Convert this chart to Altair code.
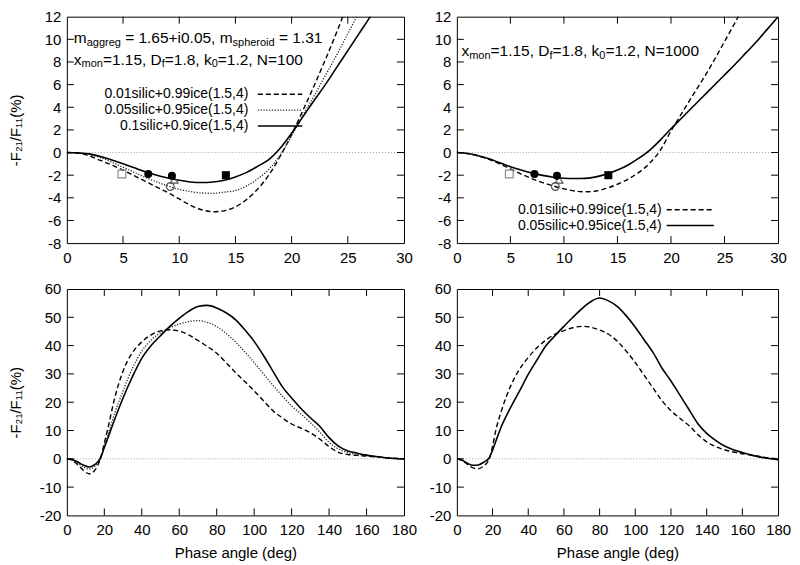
import altair as alt
import pandas as pd

FONT = "Liberation Sans, Arial, Helvetica, sans-serif"

# ---------------- data ----------------
# Top-left: N=100, phase angle 0..30
tl_dash_x = list(range(0, 27))
tl_dash_y = [0, -0.05, -0.3, -0.7, -1.1, -1.55, -2.05, -2.55, -3.05, -3.55, -4.1, -4.65, -5.05, -5.23,
             -5.15, -4.8, -4.15, -3.2, -1.95, -0.3, 1.6, 3.7, 5.9, 8.2, 10.6, 13.2, 15.9]
tl_dot_x = list(range(0, 28))
tl_dot_y = [0, -0.03, -0.15, -0.45, -0.85, -1.3, -1.75, -2.2, -2.6, -2.95, -3.25, -3.45, -3.57, -3.6,
            -3.5, -3.35, -2.95, -2.3, -1.45, -0.2, 1.5, 3.3, 5.0, 6.8, 8.6, 10.5, 12.4, 14.4]
tl_sol_x = list(range(0, 29))
tl_sol_y = [0, -0.03, -0.12, -0.35, -0.65, -1.0, -1.35, -1.7, -2.0, -2.25, -2.45, -2.6, -2.65, -2.6,
            -2.45, -2.15, -1.75, -1.2, -0.6, 0.4, 1.7, 3.15, 4.6, 6.0, 7.5, 9.0, 10.5, 12.0, 13.6]

# Top-right: N=1000
tr_dash_x = list(range(0, 28))
tr_dash_y = [0, -0.08, -0.3, -0.6, -1.0, -1.45, -1.9, -2.3, -2.65, -2.95, -3.2, -3.4, -3.47, -3.4,
             -3.15, -2.8, -2.35, -1.75, -0.95, 0.2, 1.9, 3.45, 5.0, 6.5, 8.1, 9.8, 11.5, 13.3]
tr_sol_x = list(range(0, 31))
tr_sol_y = [0, -0.08, -0.28, -0.55, -0.9, -1.25, -1.55, -1.82, -2.02, -2.18, -2.27, -2.3, -2.28, -2.15,
            -1.9, -1.55, -1.1, -0.5, 0.2, 1.1, 2.1, 3.05, 4.0, 4.95, 5.9, 6.85, 7.8, 8.8, 9.8, 10.9, 12.0]

# Bottom row: phase angle 0..180
bot_x = [0, 3, 6, 9, 12, 15, 18, 20, 22, 25, 30, 35, 40, 45, 50, 55, 60, 65, 70, 75, 80, 85, 90, 95,
         100, 105, 110, 115, 120, 125, 130, 135, 140, 145, 150, 155, 160, 165, 170, 175, 180]
bl_dash_y = [0, -0.6, -2.2, -4.2, -5.3, -4.0, 0.3, 5.5, 11, 20, 31, 37.5, 41.3, 43.8, 45.2, 45.6, 45.1,
             43.8, 41.8, 39.7, 37.3, 34, 30.5, 27.3, 24, 20.5, 17, 14.5, 12.3, 10.8, 9.2, 7, 4.3, 2.3,
             1.5, 1.2, 1.0, 0.7, 0.4, 0.2, 0]
bl_dot_y = [0, -0.4, -1.6, -3.0, -3.6, -2.6, 0.3, 4.5, 8.5, 15, 24, 32, 38, 42, 44.5, 46.3, 47.6, 48.5,
            48.8, 48.2, 46.7, 44.3, 41.3, 37.8, 34, 30, 26, 22.2, 18.7, 15.8, 12.8, 9.5, 5.8, 3.5, 2.2,
            1.6, 1.2, 0.8, 0.4, 0.1, 0]
bl_sol_y = [0, -0.3, -1.2, -2.3, -2.9, -2.0, 0.3, 4, 7.5, 13, 21.5, 29, 35.5, 40, 43.5, 46.8, 49.6,
            52.1, 53.8, 54.2, 53.3, 51.6, 49.2, 45.6, 41.5, 36.5, 31, 25.5, 21.5, 17.8, 14.5, 11.5, 7.5,
            4.5, 2.8, 2.0, 1.3, 0.8, 0.4, 0.1, 0]
br_dash_y = [0, -0.6, -2.0, -3.2, -3.5, -2.5, -0.3, 4.5, 10.5, 17, 25.5, 31.5, 35.8, 39.3, 42, 44, 45.3,
             46.3, 46.8, 46.5, 45.5, 44, 41.5, 38, 34, 29.5, 25, 20.5, 17, 14.3, 11.8, 8.6, 6.0, 4.3,
             3.2, 2.4, 1.8, 1.3, 0.8, 0.3, 0]
br_sol_y = [0, -0.5, -1.6, -2.3, -2.2, -1.2, 0.2, 3, 6.5, 11.5, 18, 23.8, 29.8, 35, 40, 43.5, 46.8, 50,
            53, 55.5, 56.8, 55.8, 53.8, 50.5, 46.5, 42, 37.5, 32, 27.5, 22.5, 17.5, 12.5, 9, 6.5, 4.5,
            3.2, 2.2, 1.3, 0.6, 0.1, -0.3]

# observational points (top panels)
obs_x = [4.9, 7.25, 9.35, 9.2, 9.55, 14.15]
obs_y = [-1.9, -1.9, -2.05, -3.0, -2.4, -2.0]
obs_shape = ["square", "circle", "circle", "circle", "triangle-up", "square"]
obs_filled = [False, True, True, False, False, True]
obs_color = ["#8c8c8c", "black", "black", "#555555", "#555555", "black"]

labels_100 = ["0.01silic+0.99ice(1.5,4)", "0.05silic+0.95ice(1.5,4)", "0.1silic+0.9ice(1.5,4)"]
labels_1000 = ["0.01silic+0.99ice(1.5,4)", "0.05silic+0.95ice(1.5,4)"]

top_xticks = [0, 5, 10, 15, 20, 25, 30]
top_yticks = [-8, -6, -4, -2, 0, 2, 4, 6, 8, 10, 12]
bot_xticks = [0, 20, 40, 60, 80, 100, 120, 140, 160, 180]
bot_yticks = [-20, -10, 0, 10, 20, 30, 40, 50, 60]

note_tl_1 = [("m", 0), ("aggreg", 1), (" = 1.65+i0.05, m", 0), ("spheroid", 1), (" = 1.31", 0)]
note_tl_2 = [("x", 0), ("mon", 1), ("=1.15, D", 0), ("f", 1), ("=1.8, k", 0), ("0", 1), ("=1.2, N=100", 0)]
note_tr_1 = [("x", 0), ("mon", 1), ("=1.15, D", 0), ("f", 1), ("=1.8, k", 0), ("0", 1), ("=1.2, N=1000", 0)]

YTITLE = "-F\u2082\u2081/F\u2081\u2081(%)"
XTITLE = "Phase angle (deg)"

# ---------------- styles ----------------
DASH = dict(strokeDash=[5, 3], strokeWidth=1.4, color="black")
DOT = dict(strokeDash=[1.2, 1.6], strokeWidth=1.3, color="#222222")
SOLID = dict(strokeWidth=1.6, color="black")
TXT = 15.5
KEY = 14
SUB = 11
TICK = 7

# Arial / Liberation Sans advance widths (per 1000 em)
AW = {' ': 278, '(': 333, ')': 333, '+': 584, ',': 278, '-': 333, '.': 278, '/': 278, '=': 584, '%': 889,
      'D': 722, 'F': 611, 'N': 722, 'P': 667,
      'a': 556, 'c': 500, 'd': 556, 'e': 556, 'f': 278, 'g': 556, 'h': 556, 'i': 222, 'k': 500, 'l': 222,
      'm': 833, 'n': 556, 'o': 556, 'p': 556, 'r': 333, 's': 500, 'x': 500}


def tw(s, size):
    return sum(AW.get(c, 556) for c in s) / 1000.0 * size


def make_panel(W, H, xdom, ydom, xticks, yticks, curves, xtitle, ytitle,
               legend, notes, show_obs):
    xs = alt.Scale(domain=xdom, nice=False, zero=False)
    ys = alt.Scale(domain=ydom, nice=False, zero=False)
    ax_x = alt.Axis(values=xticks, title=xtitle, labelExpr="toString(datum.value)",
                    labelFlush=False, labelOverlap=False)
    ax_y = alt.Axis(values=yticks, title=ytitle, labelExpr="toString(datum.value)",
                    labelFlush=False, labelOverlap=False)

    def ex(f):
        return alt.X(f"{f}:Q", scale=xs, axis=ax_x)

    def ey(f):
        return alt.Y(f"{f}:Q", scale=ys, axis=ax_y)

    layers = []
    layers.append(alt.Chart(pd.DataFrame({"z": [0]})).mark_rule(
        color="#a0a0a0", strokeDash=[1, 2], strokeWidth=1).encode(y=ey("z")))

    for xv, yv, st in curves:
        df = pd.DataFrame({"x": xv, "y": yv})
        layers.append(alt.Chart(df).mark_line(clip=True, interpolate="monotone", **st)
                      .encode(x=ex("x"), y=ey("y")))

    if show_obs:
        ob = pd.DataFrame({"x": obs_x, "y": obs_y, "shape": obs_shape,
                           "filled": obs_filled, "col": obs_color})
        op = ob[~ob["filled"]]
        fl = ob[ob["filled"]]
        layers.append(alt.Chart(op).mark_point(filled=False, size=60, strokeWidth=1.2, opacity=1)
                      .encode(x=ex("x"), y=ey("y"),
                              shape=alt.Shape("shape:N", scale=None, legend=None),
                              stroke=alt.Stroke("col:N", scale=None, legend=None)))
        layers.append(alt.Chart(fl).mark_point(filled=True, size=65, opacity=1, color="black")
                      .encode(x=ex("x"), y=ey("y"),
                              shape=alt.Shape("shape:N", scale=None, legend=None)))

    # key: label, then line sample on the right
    labels, styles, tx, lx1, lx2, lys = legend
    for lab, st, yv in zip(labels, styles, lys):
        d = pd.DataFrame({"x": [tx], "x1": [lx1], "x2": [lx2], "y": [yv], "t": [lab]})
        layers.append(alt.Chart(d).mark_text(align="right", baseline="middle", font=FONT,
                                             fontSize=KEY, color="black")
                      .encode(x=ex("x"), y=ey("y"), text="t:N"))
        layers.append(alt.Chart(d).mark_rule(**st)
                      .encode(x=ex("x1"), x2=alt.X2("x2"), y=ey("y")))

    # annotations with subscripts
    for segs, nx, ny in notes:
        off = 0.0
        for txt, sub in segs:
            fs = SUB if sub else TXT
            lead = len(txt) - len(txt.lstrip(" "))
            off += tw(" " * lead, fs)
            core = txt.strip(" ")
            d = pd.DataFrame({"x": [nx], "y": [ny], "t": [core]})
            layers.append(alt.Chart(d).mark_text(align="left", baseline="middle", font=FONT,
                                                 fontSize=fs, color="black", dx=off,
                                                 dy=(4.5 if sub else 0))
                          .encode(x=ex("x"), y=ey("y"), text="t:N"))
            off += tw(core, fs) + tw(" " * (len(txt) - lead - len(core)), fs)

    # inward ticks on all four sides
    xt = pd.DataFrame({"t": xticks[1:-1]})
    yt = pd.DataFrame({"t": yticks[1:-1]})
    tk = dict(color="black", strokeWidth=1)
    layers.append(alt.Chart(xt).mark_rule(**tk).encode(x=ex("t"), y=alt.value(H), y2=alt.value(H - TICK)))
    layers.append(alt.Chart(xt).mark_rule(**tk).encode(x=ex("t"), y=alt.value(0), y2=alt.value(TICK)))
    layers.append(alt.Chart(yt).mark_rule(**tk).encode(y=ey("t"), x=alt.value(0), x2=alt.value(TICK)))
    layers.append(alt.Chart(yt).mark_rule(**tk).encode(y=ey("t"), x=alt.value(W), x2=alt.value(W - TICK)))

    return alt.layer(*layers).properties(width=W, height=H)


WL, WR, H = 338, 322, 227

tl = make_panel(WL, H, [0, 30], [-8, 12], top_xticks, top_yticks,
                [(tl_dash_x, tl_dash_y, DASH), (tl_dot_x, tl_dot_y, DOT), (tl_sol_x, tl_sol_y, SOLID)],
                None, YTITLE,
                (labels_100, [DASH, DOT, SOLID], 16.15, 17.0, 20.95, [5.15, 3.75, 2.35]),
                [(note_tl_1, 0.62, 10.1), (note_tl_2, 0.62, 8.2)], True)
tr = make_panel(WR, H, [0, 30], [-8, 12], top_xticks, top_yticks,
                [(tr_dash_x, tr_dash_y, DASH), (tr_sol_x, tr_sol_y, SOLID)],
                None, None,
                (labels_1000, [DASH, SOLID], 19.14, 19.6, 24.0, [-5.05, -6.45]),
                [(note_tr_1, 0.43, 8.94)], True)
bl = make_panel(WL, H, [0, 180], [-20, 60], bot_xticks, bot_yticks,
                [(bot_x, bl_dash_y, DASH), (bot_x, bl_dot_y, DOT), (bot_x, bl_sol_y, SOLID)],
                XTITLE, YTITLE, ([], [], 0, 0, 0, []), [], False)
br = make_panel(WR, H, [0, 180], [-20, 60], bot_xticks, bot_yticks,
                [(bot_x, br_dash_y, DASH), (bot_x, br_sol_y, SOLID)],
                XTITLE, None, ([], [], 0, 0, 0, []), [], False)

chart = alt.concat(tl, tr, bl, br, columns=2, spacing={"row": 46, "column": 53},
                   bounds="flush", align="each").properties(padding=0)

chart = chart.configure_view(stroke="black", strokeWidth=1).configure_axis(
    grid=False, domain=False, ticks=False, labelFont=FONT, labelFontSize=15, labelColor="black",
    titleFont=FONT, titleFontSize=15, titleFontWeight="normal", titleColor="black"
).configure_axisX(labelPadding=7, titlePadding=8).configure_axisY(labelPadding=6, titleX=-43)

chart.save("out.html", embed_options={"renderer": "svg", "actions": False})
